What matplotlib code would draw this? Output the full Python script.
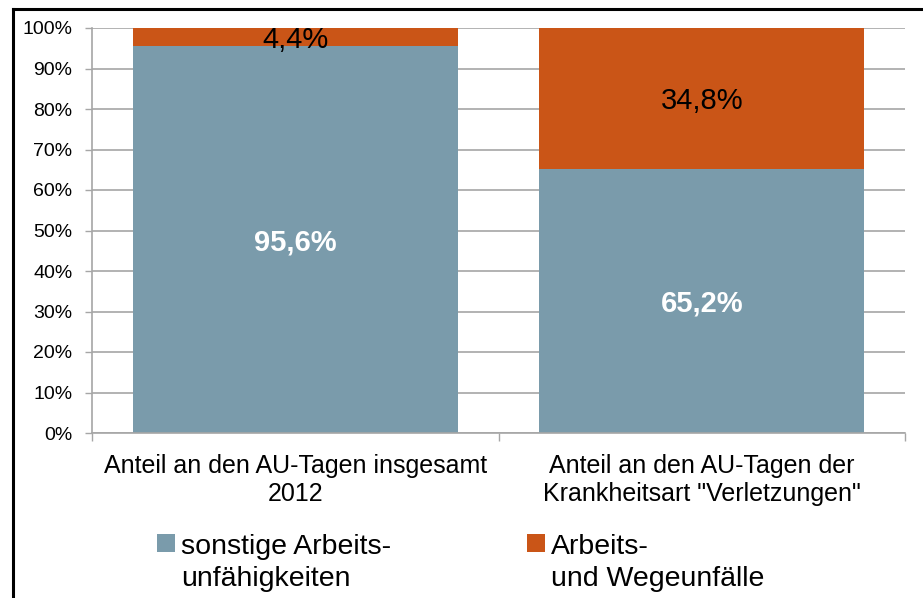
import matplotlib
matplotlib.use("Agg")
import matplotlib.pyplot as plt
from matplotlib.patches import Rectangle
from matplotlib.lines import Line2D
from matplotlib.legend_handler import HandlerPatch

plt.rcParams['font.family'] = ['Liberation Sans', 'DejaVu Sans']

categories = ['Anteil an den AU-Tagen insgesamt\n2012',
              'Anteil an den AU-Tagen der\nKrankheitsart "Verletzungen"']
series_names = ['sonstige Arbeits-\nunfähigkeiten', 'Arbeits-\nund Wegeunfälle']
sonstige = [95.6, 65.2]
unfaelle = [4.4, 34.8]
sonstige_labels = ['95,6%', '65,2%']
unfaelle_labels = ['4,4%', '34,8%']
ytick_vals = [0, 10, 20, 30, 40, 50, 60, 70, 80, 90, 100]
ytick_labels = [f'{v}%' for v in ytick_vals]

c_blue = '#7A9BAB'
c_orange = '#CA5517'
c_grid = '#A6A6A6'

W, H = 923, 598
fig = plt.figure(figsize=(W / 100, H / 100), dpi=100)
ax = fig.add_axes([92 / W, 1 - 433 / H, (905 - 92) / W, (433 - 28) / H])

x = list(range(len(categories)))
b1 = ax.bar(x, sonstige, width=0.8, color=c_blue, label=series_names[0], zorder=2)
b2 = ax.bar(x, unfaelle, width=0.8, bottom=sonstige, color=c_orange, label=series_names[1], zorder=2)

for i in x:
    ax.text(i, sonstige[i] / 2, sonstige_labels[i], ha='center', va='center_baseline',
            color='white', fontsize=21, fontweight='bold', zorder=3)
    ax.text(i, sonstige[i] + unfaelle[i] / 2, unfaelle_labels[i], ha='center', va='center_baseline',
            color='black', fontsize=21, zorder=3)

ax.set_ylim(0, 100)
ax.set_xlim(-0.5, len(categories) - 0.5)
ax.set_yticks(ytick_vals)
ax.set_yticklabels(ytick_labels, fontsize=14)
ax.yaxis.grid(True, color=c_grid, linewidth=1.2, zorder=0)
ax.set_axisbelow(True)
ax.tick_params(axis='y', length=5, width=1, color=c_grid, pad=9)

ax.set_xticks([i - 0.5 for i in range(len(categories) + 1)])
ax.set_xticklabels([])
ax.set_xticks(x, minor=True)
ax.set_xticklabels(categories, minor=True, fontsize=18, linespacing=1.2)
ax.tick_params(axis='x', which='major', length=6, width=1, color=c_grid)
ax.tick_params(axis='x', which='minor', length=0, pad=15)

for s in ['top', 'right']:
    ax.spines[s].set_visible(False)
for s in ['left', 'bottom']:
    ax.spines[s].set_color(c_grid)
    ax.spines[s].set_linewidth(1.2)


class TopLineHandler(HandlerPatch):
    def __init__(self, offset, size, **kw):
        super().__init__(**kw)
        self.offset = offset
        self.size = size

    def create_artists(self, legend, orig_handle, xdescent, ydescent, width, height, fontsize, trans):
        p = Rectangle((-xdescent, self.offset), self.size, self.size,
                      facecolor=orig_handle.get_facecolor(), edgecolor='none', transform=trans)
        return [p]


leg_fs = 20.5
sq = 18 * 0.72
off = 21 * 0.72
hm = {b1.patches[0]: TopLineHandler(off, sq), b2.patches[0]: TopLineHandler(off, sq)}
handles = [b1.patches[0], b2.patches[0]]
leg = fig.legend(handles, series_names, loc='upper left', bbox_to_anchor=(157 / W, 1 - 534 / H),
                 ncol=2, frameon=False, fontsize=leg_fs, handler_map=hm,
                 handlelength=sq / leg_fs, handleheight=sq / leg_fs, handletextpad=0.2,
                 columnspacing=4.8, borderpad=0, borderaxespad=0)
for t in leg.get_texts():
    t.set_linespacing(1.3)

fig.add_artist(Line2D([13 / W, 13 / W], [0, 1 - 9 / H], color='black', linewidth=2.2))
fig.add_artist(Line2D([13 / W, 1], [1 - 9 / H, 1 - 9 / H], color='black', linewidth=2.2))

fig.savefig('out.png', dpi=100)
